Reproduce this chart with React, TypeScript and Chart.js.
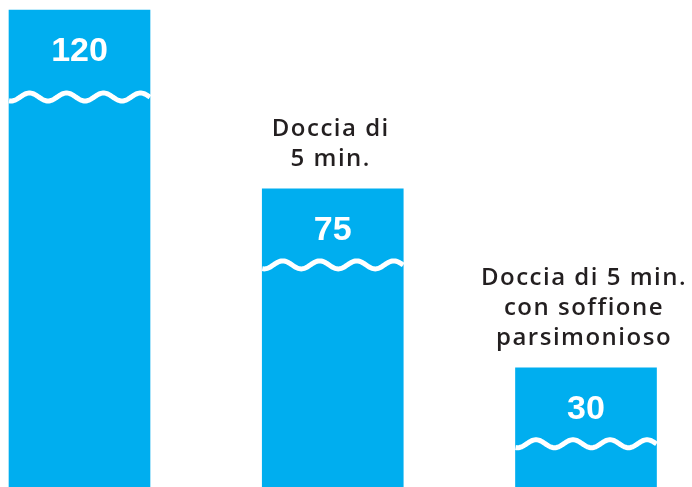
import React, { useEffect, useRef } from "react";
import { Chart, registerables } from "chart.js";

Chart.register(...registerables);

const categories = ["Bagno", "Doccia di 5 min.", "Doccia di 5 min. con soffione parsimonioso"];
const litres = [120, 75, 30];
const topLabels: string[][] = [[], ["Doccia di", "5 min."], ["Doccia di 5 min.", "con soffione", "parsimonioso"]];

const BLUE = "#00AEEF";
const TEXT = "#231F20";

const decorPlugin = {
  id: "decor",
  afterDatasetsDraw(chart: any) {
    const ctx = chart.ctx as CanvasRenderingContext2D;
    const meta = chart.getDatasetMeta(0);
    meta.data.forEach((bar: any, i: number) => {
      const x = bar.x;
      const top = bar.y;
      const w = bar.width;
      const left = x - w / 2;
      const right = x + w / 2;
      ctx.save();
      // value text
      ctx.fillStyle = "#ffffff";
      ctx.font = "bold 34px 'Liberation Sans', Arial, sans-serif";
      ctx.textAlign = "center";
      ctx.textBaseline = "alphabetic";
      ctx.fillText(String(litres[i]), x, top + 51);
      // wave
      const yc = top + (i === 0 ? 87 : 76);
      const period = 37;
      const amp = 4;
      ctx.strokeStyle = "#ffffff";
      ctx.lineWidth = 5;
      ctx.beginPath();
      for (let px = left; px <= right; px += 1) {
        const yy = yc + amp * Math.cos((2 * Math.PI * (px - left - 2)) / period);
        if (px === left) ctx.moveTo(px, yy);
        else ctx.lineTo(px, yy);
      }
      ctx.stroke();
      // top labels
      const lines = topLabels[i];
      ctx.fillStyle = TEXT;
      ctx.font = "600 24px 'Open Sans', sans-serif";
      (ctx as any).letterSpacing = "1.5px";
      const lh = 30;
      lines.forEach((ln, k) => {
        const y = top - 23 - (lines.length - 1 - k) * lh;
        ctx.fillText(ln, x - 2, y);
      });
      ctx.restore();
    });
  },
};

export default function App() {
  const ref = useRef<HTMLCanvasElement | null>(null);
  useEffect(() => {
    if (!ref.current) return;
    const chart = new Chart(ref.current, {
      type: "bar",
      data: {
        labels: categories,
        datasets: [
          {
            data: litres,
            backgroundColor: BLUE,
            borderWidth: 0,
            barThickness: 141,
            clip: false as any,
          },
        ],
      },
      options: {
        animation: false,
        responsive: false,
        maintainAspectRatio: false,
        layout: { padding: { left: 79.5, right: 106, top: 10, bottom: 0 } },
        plugins: { legend: { display: false }, tooltip: { enabled: false } },
        scales: {
          x: { type: "category", offset: false, display: false, grid: { display: false } },
          y: { min: 0, max: 120, display: false, grid: { display: false } },
        },
      },
      plugins: [decorPlugin],
    });
    return () => chart.destroy();
  }, []);
  return (
    <div style={{ position: "fixed", left: 0, top: 0, width: 692, height: 487, background: "#fff" }}>
      <canvas ref={ref} width={692} height={487} style={{ display: "block" }} />
    </div>
  );
}
